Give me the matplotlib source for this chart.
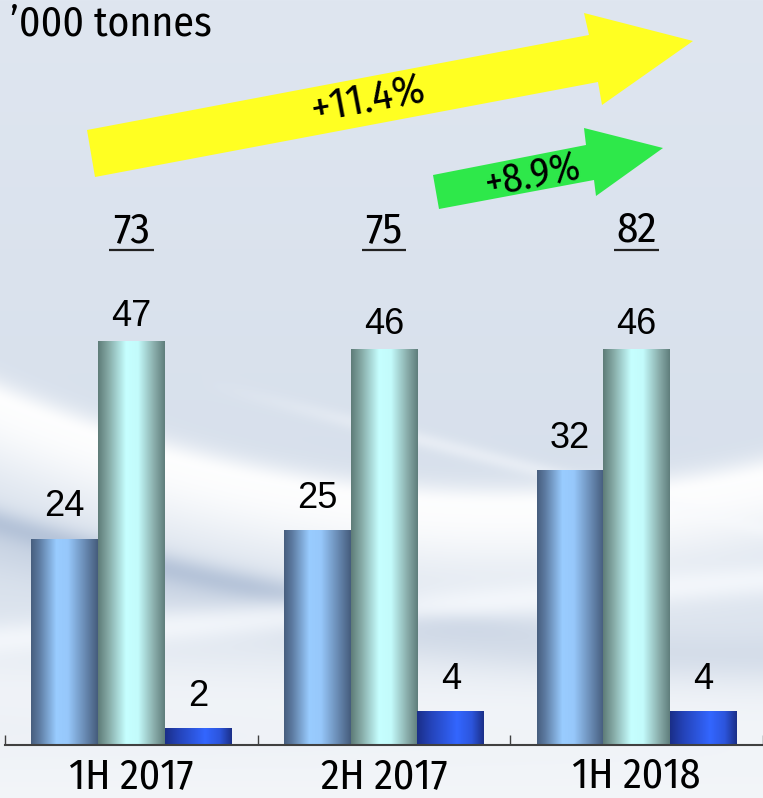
import numpy as np
import matplotlib
matplotlib.use("Agg")
import matplotlib.pyplot as plt
from matplotlib.colors import LinearSegmentedColormap
from matplotlib.patches import Polygon
import matplotlib.transforms as mtransforms

# ---------------- data ----------------
categories = ["1H 2017", "2H 2017", "1H 2018"]
series_a = [24, 25, 32]
series_b = [47, 46, 46]
series_c = [2, 4, 4]
totals = ["73", "75", "82"]
unit_label = "\u2019000 tonnes"
growth_long = "+11.4%"
growth_short = "+8.9%"

W, H = 763, 798
DPI = 100
fig = plt.figure(figsize=(W / DPI, H / DPI), dpi=DPI)

NARROW = ["Fira Sans Condensed", "Archivo Narrow", "Liberation Sans", "DejaVu Sans"]
ARIAL = ["Liberation Sans", "DejaVu Sans"]

# ---------------- background ----------------
yy, xx = np.mgrid[0:H, 0:W].astype(float)
t = yy / H
top = np.array([223, 230, 240]) / 255.0
mid = np.array([214, 223, 235]) / 255.0
bot = np.array([241, 244, 248]) / 255.0
w1 = np.clip(t / 0.7, 0, 1)[..., None]
bg = top[None, None, :] * (1 - w1) + mid[None, None, :] * w1
w2 = np.clip((t - 0.7) / 0.3, 0, 1)[..., None]
bg = bg * (1 - w2) + bot[None, None, :] * w2


def band(yc, sigma, color, strength, xmask=None, below=None):
    global bg
    d = yy - yc
    if below is not None:
        s = np.where(d > 0, below, sigma)
    else:
        s = sigma
    w = np.exp(-0.5 * (d / s) ** 2) * strength
    if xmask is not None:
        w = w * xmask
    c = np.array(color) / 255.0
    bg = bg * (1 - w[..., None]) + c[None, None, :] * w[..., None]


# broad white swoosh
band(400 + 0.42 * xx - 0.00042 * xx ** 2, 14, (255, 255, 255), 0.95, below=55)
# thin light streak upper right
band(330 + 0.26 * xx, 6, (248, 250, 253), 0.45, np.clip((xx - 200) / 200, 0, 1))
# darker blue streak
band(525 + 0.30 * xx - 0.0002 * xx ** 2, 11, (150, 170, 200), 0.55, np.clip((600 - xx) / 350, 0, 1))
band(545 + 0.30 * xx - 0.0002 * xx ** 2, 18, (185, 198, 218), 0.35)
# second white streak
band(640 - 0.08 * xx, 12, (250, 252, 255), 0.7)
band(690 + 0.04 * xx, 30, (246, 248, 251), 0.6)
band(790, 40, (245, 247, 250), 0.5)

bgax = fig.add_axes([0, 0, 1, 1], zorder=-5)
bgax.imshow(np.clip(bg, 0, 1), extent=[0, W, H, 0], aspect="auto", interpolation="bilinear")
bgax.set_xlim(0, W)
bgax.set_ylim(H, 0)
bgax.axis("off")

# ---------------- main axes ----------------
base_px = 745
px_per_unit = 8.6
ax = fig.add_axes([5 / W, (H - base_px) / H, (W - 5) / W, base_px / H])
ax.patch.set_alpha(0)

x = np.arange(len(categories))
bw = 0.264
cm_a = LinearSegmentedColormap.from_list("a", [(0, "#475e7e"), (0.12, "#5c7aa0"), (0.38, "#99ccff"), (0.55, "#97c8fb"), (0.8, "#6a8cb5"), (1, "#455c7c")])
cm_b = LinearSegmentedColormap.from_list("b", [(0, "#5e7c78"), (0.15, "#84a8a4"), (0.42, "#c6ffff"), (0.6, "#c3fbfb"), (0.85, "#87aaa8"), (1, "#5f7e7c")])
cm_c = LinearSegmentedColormap.from_list("c", [(0, "#1a2e88"), (0.2, "#2443b8"), (0.6, "#3366ff"), (0.82, "#2c55dc"), (1, "#1b2f88")])


def grad_bars(bars, cmap):
    g = np.linspace(0, 1, 256).reshape(1, -1)
    for r in bars:
        x0, y0, w, h = r.get_x(), r.get_y(), r.get_width(), r.get_height()
        im = ax.imshow(g, extent=[x0, x0 + w, y0, y0 + h], aspect="auto", cmap=cmap,
                       interpolation="bilinear", zorder=2)
        im.set_clip_path(r)
        r.set_facecolor("none")
        r.set_edgecolor("none")


for vals, off, cmap, lab_off in [(series_a, -bw, cm_a, 16), (series_b, 0, cm_b, 11), (series_c, bw, cm_c, 15.5)]:
    bars = ax.bar(x + off, vals, width=bw, zorder=2)
    grad_bars(bars, cmap)
    for xi, v in zip(x + off, vals):
        ax.annotate(str(v), (xi, v), xytext=(0, lab_off), textcoords="offset points",
                    ha="center", va="baseline", fontsize=26, family=ARIAL, color="black", zorder=5)

xmax = -0.5 + (W - 5) / 254.0
ax.set_xlim(-0.5, xmax)
ymax = base_px / px_per_unit
ax.set_ylim(0, ymax)

# totals underlined
tot_y = (base_px - 242) / px_per_unit
line_y = (base_px - 250) / px_per_unit
for xi, tt in zip(x, totals):
    ax.text(xi, tot_y, tt, ha="center", va="baseline", fontsize=31, family=NARROW, color="black", zorder=5)
    ax.plot([xi - 0.088, xi + 0.088], [line_y, line_y], color="#222222", lw=1.6, solid_capstyle="butt", zorder=5)

# axes styling
for s in ["top", "right", "left"]:
    ax.spines[s].set_visible(False)
ax.spines["bottom"].set_color("#404040")
ax.spines["bottom"].set_linewidth(1.5)
ax.set_yticks([])
ax.set_xticks(np.arange(-0.5, len(categories) + 0.5, 1.0))
ax.set_xticklabels([])
ax.tick_params(axis="x", which="major", direction="in", length=7, width=1, color="#404040")
ax.set_xticks(x, minor=True)
ax.set_xticklabels(categories, minor=True, fontsize=30, family=NARROW)
ax.tick_params(axis="x", which="minor", length=0, pad=8)

# ---------------- arrows and labels (figure pixel coords, y down) ----------------
pix = mtransforms.Affine2D().scale(1 / W, -1 / H).translate(0, 1) + fig.transFigure
yellow = [(87, 130), (589, 35), (584, 13), (693, 41), (602, 105), (598, 82), (95, 177)]
green = [(433, 175), (586, 145), (584, 128), (663, 148), (596, 196), (594, 180), (439, 209)]
fig.patches.append(Polygon(yellow, closed=True, transform=pix, facecolor="#ffff22", edgecolor="none", zorder=3))
fig.patches.append(Polygon(green, closed=True, transform=pix, facecolor="#2ee84a", edgecolor="none", zorder=3))
fig.text(10 / W, 1 - 24 / H, unit_label, transform=fig.transFigure, ha="left", va="center",
         fontsize=30, family=NARROW, color="black")
fig.text(368 / W, 1 - 100 / H, growth_long, ha="center", va="center", rotation=10.7,
         fontsize=31, family=NARROW, color="black", zorder=4)
fig.text(533 / W, 1 - 176 / H, growth_short, ha="center", va="center", rotation=11,
         fontsize=29, family=NARROW, color="black", zorder=4)

fig.savefig("out.png", dpi=DPI)
